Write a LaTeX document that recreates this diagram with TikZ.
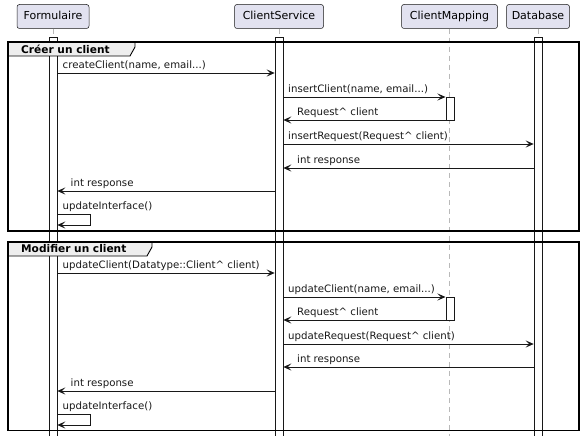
\documentclass[tikz,border=0pt]{standalone}
\usepackage{fontspec}
\setmainfont{DejaVu Sans}
\usepackage{xcolor}
\usepackage{tikz}
\usetikzlibrary{arrows.meta, positioning}
\definecolor{partfill}{HTML}{E2E2F0}
\definecolor{umlline}{HTML}{181818}
\definecolor{groupfill}{HTML}{EEEEEE}

\begin{document}
\begin{tikzpicture}[
    x=1pt, y=-1pt,
    part/.style={rectangle, draw=umlline, line width=0.5pt, fill=partfill, rounded corners=2.5pt, minimum height=24pt, text height=8.2pt, text depth=2.3pt, font=\fontsize{11}{13}\selectfont},
    bar/.style={rectangle, draw=umlline, line width=0.6pt, fill=white, minimum width=8pt, inner sep=0pt, anchor=north},
    life/.style={gray!55, line width=0.6pt, dash pattern=on 5pt off 4pt},
    msg/.style={umlline, line width=0.8pt, -{Stealth[length=8pt, width=7pt, inset=3.5pt]}},
    lbl/.style={anchor=base west, inner sep=0pt, yshift=4.5pt, font=\fontsize{10.2}{12}\selectfont},
    frame/.style={draw=black, line width=1.4pt},
    grp/.style={anchor=base west, inner sep=0pt, font=\fontsize{10.6}{12}\selectfont\bfseries},
]
\useasboundingbox (0,0) rectangle (586,436);

% Participants
\node[part, minimum width=72pt] (form) at (53,16.5) {Formulaire};
\node[part, minimum width=89pt] (cs) at (279,16.5) {ClientService};
\node[part, minimum width=96pt] (cm) at (449.5,16.5) {ClientMapping};
\node[part, minimum width=63pt] (db) at (538,16.5) {Database};

% Lifelines and activations
\coordinate (cmend) at (449.5,436);
\draw[life] (cm.south) -- (cmend);
\node[bar, minimum height=399pt] (fbar) at (53,37) {};
\node[bar, minimum height=399pt] (csbar) at (279,37) {};
\node[bar, minimum height=399pt] (dbbar) at (538,37) {};
\node[bar, minimum height=23pt] (cmbar1) at (449.8,97) {};
\node[bar, minimum height=23pt] (cmbar2) at (449.8,297) {};
\draw[life] (form.south) -- (fbar.north);
\draw[life] (cs.south) -- (csbar.north);
\draw[life] (db.south) -- (dbbar.north);

% Message rows
\foreach \n/\y in {1/73, 2/97, 3/120, 4/144, 5/168, 6/191, 7/214, 8/225}
    \coordinate (r\n) at (0,\y);
\foreach \n/\y in {1/273, 2/297, 3/320, 4/344, 5/367, 6/391, 7/414, 8/425}
    \coordinate (s\n) at (0,\y);

% Group: Créer un client
\fill[groupfill] (8,42) -- (135,42) -- (135,47) -- (130,56) -- (8,56) -- cycle;
\draw[frame] (8,42) rectangle (579,231);
\draw[line width=0.9pt] (135,42) -- (135,47) -- (130,56) -- (8,56);
\node[grp] (g1) at (21,53) {Créer un client};

\draw[msg] (fbar.east |- r1) node[lbl, xshift=5pt] {createClient(name, email...)} -- (csbar.west |- r1);
\draw[msg] (csbar.east |- r2) node[lbl, xshift=4.5pt] {insertClient(name, email...)} -- (cmbar1.west |- r2);
\draw[msg] (cmbar1.west |- r3) -- (csbar.east |- r3) node[lbl, xshift=13.5pt] {Request\textasciicircum{} client};
\draw[msg] (csbar.east |- r4) node[lbl, xshift=4.5pt] {insertRequest(Request\textasciicircum{} client)} -- (dbbar.west |- r4);
\draw[msg] (dbbar.west |- r5) -- (csbar.east |- r5) node[lbl, xshift=13.5pt] {int response};
\draw[msg] (csbar.west |- r6) -- (fbar.east |- r6) node[lbl, xshift=13pt] {int response};
\draw[msg] (fbar.east |- r7) node[lbl, xshift=5pt] {updateInterface()} -- ++(33,0) |- (fbar.east |- r8);

% Group: Modifier un client
\fill[groupfill] (8,242) -- (152,242) -- (152,247) -- (147,256) -- (8,256) -- cycle;
\draw[frame] (8,242) rectangle (579,430.5);
\draw[line width=0.9pt] (152,242) -- (152,247) -- (147,256) -- (8,256);
\node[grp] (g2) at (21,252.7) {Modifier un client};

\draw[msg] (fbar.east |- s1) node[lbl, xshift=5pt] {updateClient(Datatype::Client\textasciicircum{} client)} -- (csbar.west |- s1);
\draw[msg] (csbar.east |- s2) node[lbl, xshift=4.5pt] {updateClient(name, email...)} -- (cmbar2.west |- s2);
\draw[msg] (cmbar2.west |- s3) -- (csbar.east |- s3) node[lbl, xshift=13.5pt] {Request\textasciicircum{} client};
\draw[msg] (csbar.east |- s4) node[lbl, xshift=4.5pt] {updateRequest(Request\textasciicircum{} client)} -- (dbbar.west |- s4);
\draw[msg] (dbbar.west |- s5) -- (csbar.east |- s5) node[lbl, xshift=13.5pt] {int response};
\draw[msg] (csbar.west |- s6) -- (fbar.east |- s6) node[lbl, xshift=13pt] {int response};
\draw[msg] (fbar.east |- s7) node[lbl, xshift=5pt] {updateInterface()} -- ++(33,0) |- (fbar.east |- s8);

\end{tikzpicture}
\end{document}
